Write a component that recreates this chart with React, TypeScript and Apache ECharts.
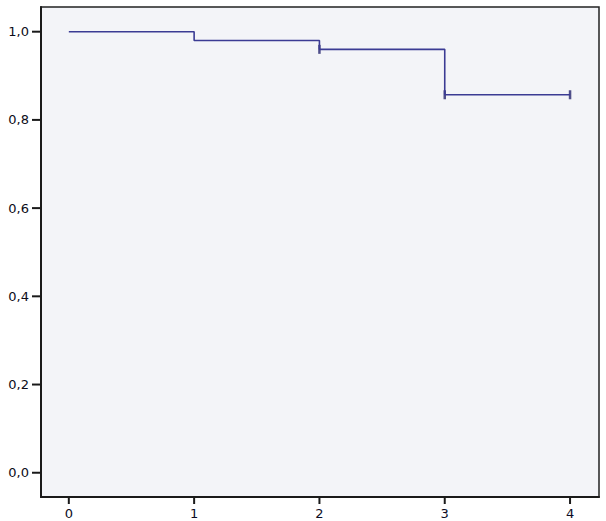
import React, { useEffect, useRef } from "react";
import * as echarts from "echarts";

const times = [0, 1, 2, 3, 4];
const survival = [1.0, 0.98, 0.96, 0.857, 0.857];
const censorTimes = [2, 3, 4];
const censorValues = [0.96, 0.857, 0.857];
const xTicks = [0, 1, 2, 3, 4];
const yTicks = [0, 0.2, 0.4, 0.6, 0.8, 1.0];

const X_MIN = -0.222;
const X_MAX = 4.231;
const Y_MIN = -0.055;
const Y_MAX = 1.056;

export default function App() {
  const ref = useRef<HTMLDivElement>(null);
  useEffect(() => {
    if (!ref.current) return;
    const chart = echarts.init(ref.current, null, { renderer: "svg" });
    const lineData = times.map((t, i) => [t, survival[i]]);
    const censorData = censorTimes.map((t, i) => [t, censorValues[i]]);
    chart.setOption({
      animation: false,
      grid: {
        left: 41,
        top: 7,
        right: 7,
        bottom: 24,
        show: true,
        backgroundColor: "#f3f4f8",
        borderColor: "#222",
        borderWidth: 1.5,
      },
      xAxis: {
        type: "value",
        min: X_MIN,
        max: X_MAX,
        splitLine: { show: false },
        axisLine: { show: true, onZero: false, lineStyle: { color: "#1a1a1a", width: 2 } },
        axisTick: { show: false },
        axisLabel: {
          customValues: xTicks,
          color: "#0c0c24",
          fontFamily: "DejaVu Sans",
          fontSize: 13,
          margin: 10,
          formatter: (v: number) => String(v),
        },
      },
      yAxis: {
        type: "value",
        min: Y_MIN,
        max: Y_MAX,
        splitLine: { show: false },
        axisLine: { show: true, onZero: false, lineStyle: { color: "#1a1a1a", width: 2 } },
        axisTick: { show: false },
        axisLabel: {
          customValues: yTicks,
          color: "#0c0c18",
          fontFamily: "DejaVu Sans",
          fontSize: 13,
          margin: 12,
          formatter: (v: number) => v.toFixed(1).replace(".", ","),
        },
      },
      series: [
        {
          type: "line",
          step: "end",
          data: lineData,
          showSymbol: false,
          symbol: "none",
          lineStyle: { color: "#3b3b94", width: 1.6 },
        },
        {
          type: "scatter",
          data: censorData,
          symbol: "rect",
          symbolSize: [2.5, 9],
          itemStyle: { color: "#25256e" },
        },
      ],
    });
    // axis ticks drawn at positions given by the chart's own scales
    const tickStyle = { stroke: "#1a1a1a", lineWidth: 2 };
    const elems: any[] = [];
    xTicks.forEach((v) => {
      const p = chart.convertToPixel({ gridIndex: 0 }, [v, Y_MIN]) as number[];
      elems.push({ type: "line", shape: { x1: p[0], y1: p[1], x2: p[0], y2: p[1] + 7 }, style: tickStyle, silent: true });
    });
    yTicks.forEach((v) => {
      const p = chart.convertToPixel({ gridIndex: 0 }, [X_MIN, v]) as number[];
      elems.push({ type: "line", shape: { x1: p[0] - 9, y1: p[1], x2: p[0], y2: p[1] }, style: tickStyle, silent: true });
    });
    chart.setOption({ graphic: elems });
    return () => chart.dispose();
  }, []);
  return (
    <div
      ref={ref}
      style={{ position: "absolute", left: 0, top: 0, width: 606, height: 521, background: "#fff" }}
    />
  );
}
